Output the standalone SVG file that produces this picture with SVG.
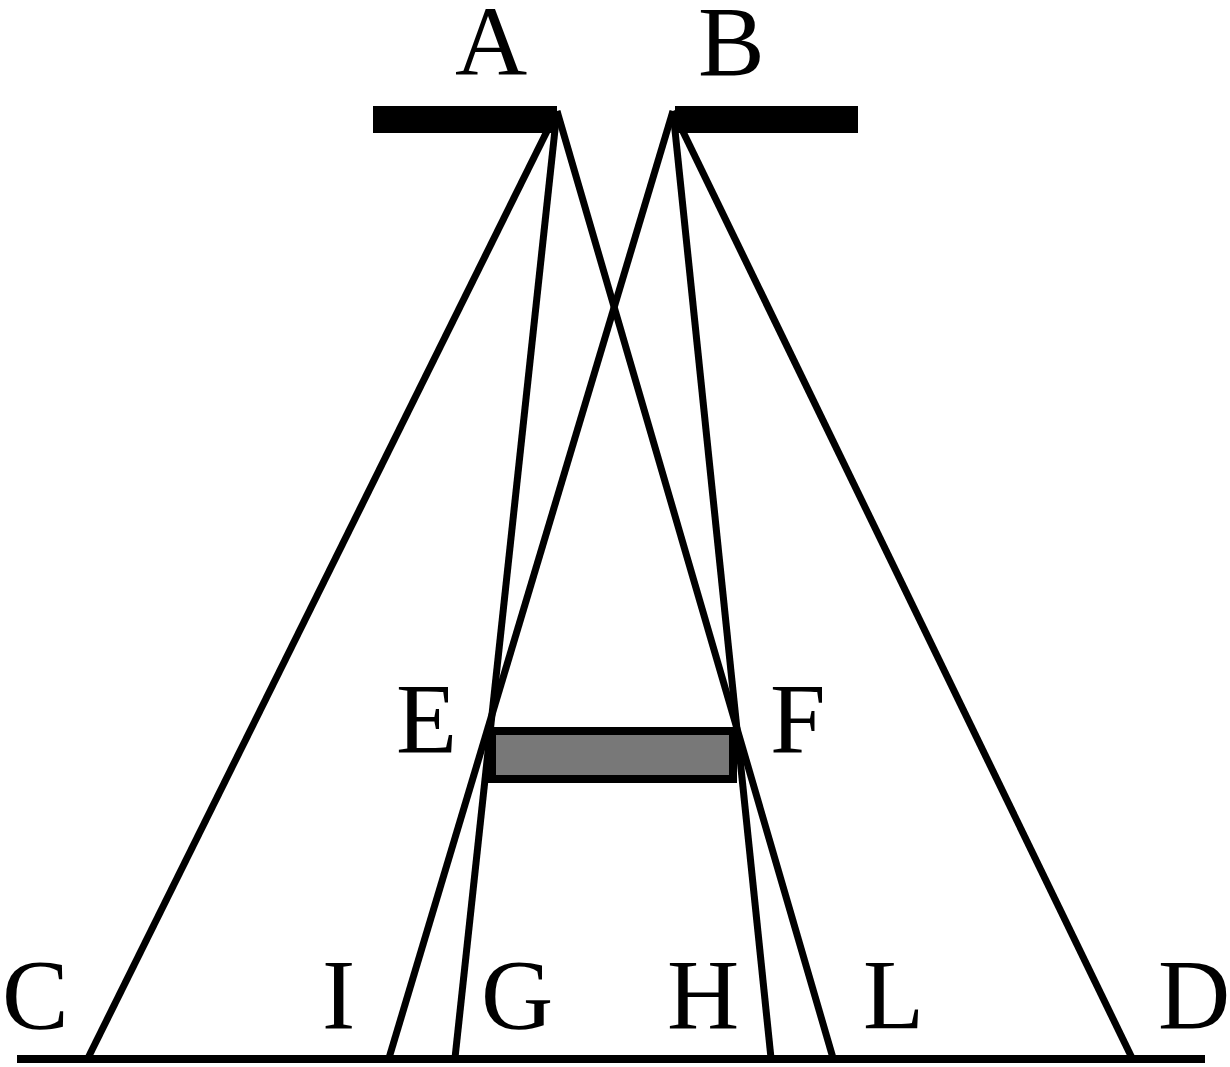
<svg xmlns="http://www.w3.org/2000/svg" width="1230" height="1067" viewBox="0 0 1230 1067">
  <style>
    .lbl { font-family: "Liberation Serif", "Times New Roman", serif; font-size: 100px; fill: #000; }
    .ray { stroke: #000; stroke-width: 7; fill: none; }
  </style>
  <rect x="0" y="0" width="1230" height="1067" fill="#fff"/>
  <g id="connectors">
    <line class="ray" x1="557" y1="111" x2="88" y2="1058"/>
    <line class="ray" x1="557" y1="111" x2="455" y2="1058"/>
    <line class="ray" x1="557" y1="111" x2="833" y2="1058"/>
    <line class="ray" x1="673" y1="111" x2="389" y2="1058"/>
    <line class="ray" x1="673" y1="111" x2="771" y2="1058"/>
    <line class="ray" x1="673" y1="111" x2="1132" y2="1058"/>
  </g>
  <g id="aperture-A">
    <rect x="373" y="106" width="184" height="27" fill="#000"/>
    <text class="lbl" x="455" y="75">A</text>
  </g>
  <g id="aperture-B">
    <rect x="675" y="106" width="183" height="27" fill="#000"/>
    <text class="lbl" x="698" y="75">B</text>
  </g>
  <g id="object-EF">
    <rect x="492" y="731" width="241" height="48" fill="#787878" stroke="#000" stroke-width="8"/>
    <text class="lbl" x="396" y="752">E</text>
    <text class="lbl" x="770" y="752">F</text>
  </g>
  <g id="screen">
    <line x1="17" y1="1059" x2="1205" y2="1059" stroke="#000" stroke-width="8"/>
    <text class="lbl" x="2" y="1028">C</text>
    <text class="lbl" x="322" y="1028">I</text>
    <text class="lbl" x="481" y="1028">G</text>
    <text class="lbl" x="667" y="1028">H</text>
    <text class="lbl" x="863" y="1028">L</text>
    <text class="lbl" x="1158" y="1028">D</text>
  </g>
</svg>
